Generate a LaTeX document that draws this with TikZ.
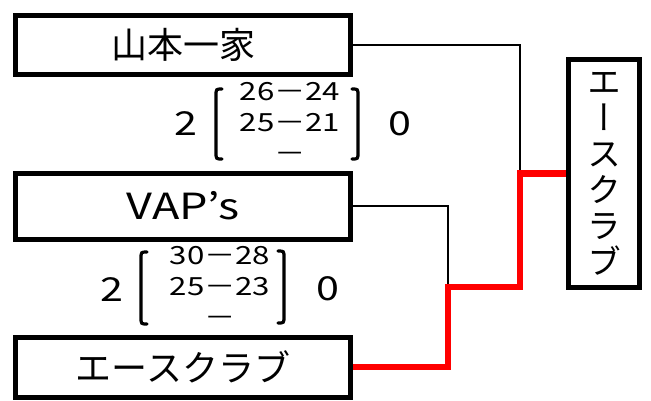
\documentclass[tikz,border=0pt]{standalone}
\usepackage{fontspec}
\setmainfont{Noto Sans CJK JP}
\newfontfamily\widefont[FakeStretch=1.25]{Noto Sans CJK JP}
\newfontfamily\vertfont[RawFeature=+vert]{Noto Sans CJK JP}
\usetikzlibrary{positioning}

\begin{document}
\begin{tikzpicture}[x=1pt, y=-1pt, node distance=161pt, thick,
    team/.style={draw, line width=5pt, minimum width=335pt, minimum height=60pt, inner sep=0pt, font=\fontsize{36}{40}\selectfont},
    score/.style={align=center, inner sep=0pt, font=\widefont\fontsize{25}{31}\selectfont},
    sets/.style={inner sep=0pt, font=\widefont\fontsize{33}{35}\selectfont},
    brk/.style={line width=3.2pt, line cap=round},
    wire/.style={line width=2.8pt},
    win/.style={draw=red, line width=6.5pt}]
    \useasboundingbox (0,0) rectangle (651,400);

    % Teams
    \node[team, minimum height=59pt] (yamamoto) at (183,45) {山本一家};
    \node[team, minimum height=66pt, below of=yamamoto, font=\widefont\fontsize{36}{40}\selectfont] (vaps) {VAP’s};
    \node[team, below of=vaps] (ace) {エースクラブ};
    \node[team, minimum width=71pt, minimum height=228pt, align=center, font=\vertfont\fontsize{34}{36}\selectfont] (winner) at (604,173.5) {エ\\ー\\ス\\ク\\ラ\\ブ};

    % Scores
    \node[sets] (setsA) at (186,124) {2};
    \node[score] (gamesA) at (290,122.5) {26－24\\25－21\\－};
    \node[sets] (lostA) at (400,124) {0};
    \draw[brk] (222,89) .. controls (216,89) .. (216,96) -- (216,152) .. controls (216,159) .. (222,159);
    \draw[brk] (352,89) .. controls (358,89) .. (358,96) -- (358,152) .. controls (358,159) .. (352,159);

    \node[sets] (setsB) at (112,290) {2};
    \node[score] (gamesB) at (220,286) {30－28\\25－23\\－};
    \node[sets] (lostB) at (328,289) {0};
    \draw[brk] (147,252) .. controls (141,252) .. (141,259) -- (141,317) .. controls (141,324) .. (147,324);
    \draw[brk] (278,251) .. controls (284,251) .. (284,258) -- (284,316) .. controls (284,323) .. (278,323);

    % Bracket lines
    \coordinate (final) at (520,173.5);
    \coordinate (semi) at (448,287);
    \draw[wire] (yamamoto.east) -| (final);
    \draw[wire] (vaps.east) -| (semi);
    \draw[win] (ace.east) -| (semi) -| (final) -- (winner.west);
  \end{tikzpicture}
\end{document}
